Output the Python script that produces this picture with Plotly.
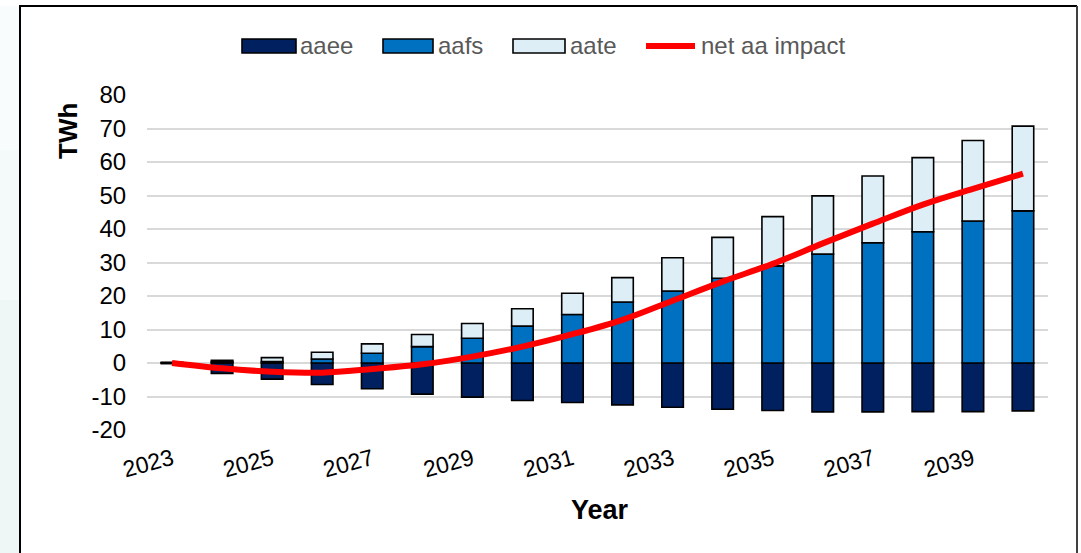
import plotly.graph_objects as go

years = [str(y) for y in range(2023, 2041)]
tick_years = [str(y) for y in range(2023, 2041, 2)]
y_tick_values = [-20, -10, 0, 10, 20, 30, 40, 50, 60, 70, 80]
y_tick_labels = ["-20", "-10", "0", "10", "20", "30", "40", "50", "60", "70", "80"]
aaee = [-0.2, -3.1, -4.8, -6.4, -7.7, -9.3, -10.2, -11.2, -11.8, -12.5, -13.2, -13.8, -14.2, -14.6, -14.6, -14.5, -14.5, -14.3]
aafs = [0.1, 0.4, 0.4, 1.2, 2.9, 4.9, 7.4, 11.0, 14.5, 18.2, 21.5, 25.3, 29.0, 32.5, 35.9, 39.2, 42.4, 45.4]
aate = [0.1, 0.4, 1.2, 2.0, 2.8, 3.6, 4.4, 5.2, 6.3, 7.3, 9.9, 12.2, 14.7, 17.4, 19.9, 22.1, 24.0, 25.3]
net_impact = [0.0, -1.6, -2.6, -2.9, -1.8, -0.4, 1.9, 4.9, 8.6, 12.9, 18.6, 24.3, 29.6, 35.7, 41.6, 47.3, 52.0, 56.5]

series_names = ["aaee", "aafs", "aate", "net aa impact"]
colors = ["#002060", "#0070C0", "#DDEEF7", "#FF0000"]

W, H = 1081, 553
L, R, T, B = 147, 33, 95, 123
PW, PH = W - L - R, H - T - B


def px(x):
    return (x - L) / PW


def py(y):
    return (H - B - y) / PH


fig = go.Figure()
for name, vals, col in zip(series_names[:3], [aaee, aafs, aate], colors[:3]):
    fig.add_trace(go.Bar(x=years, y=vals, name=name, marker=dict(color=col, line=dict(color="black", width=1.6)),
                         showlegend=False))
fig.add_trace(go.Scatter(x=years, y=net_impact, name=series_names[3], mode="lines",
                         line=dict(color=colors[3], width=6, shape="spline", smoothing=1.0), showlegend=False))

shapes = []
annotations = []
# left teal strip (approximate gradient)
bands = [(6, 150, "#F9FCFC"), (150, 300, "#F4F9F9"), (300, 553, "#EEF6F6")]
for y0, y1, c in bands:
    shapes.append(dict(type="rect", xref="paper", yref="paper", x0=px(0), x1=px(19), y0=py(y1), y1=py(y0),
                       fillcolor=c, line=dict(width=0), layer="below"))
# frame
shapes.append(dict(type="line", xref="paper", yref="paper", x0=px(19), x1=px(1077), y0=py(6), y1=py(6),
                   line=dict(color="black", width=2)))
shapes.append(dict(type="line", xref="paper", yref="paper", x0=px(20), x1=px(20), y0=py(6), y1=py(553),
                   line=dict(color="black", width=2)))
shapes.append(dict(type="line", xref="paper", yref="paper", x0=px(1077), x1=px(1077), y0=py(6), y1=py(553),
                   line=dict(color="#404040", width=2)))

# custom legend
legend_items = [(242, 296, 298), (383, 433, 436), (513, 565, 568)]
ly = 46
for (x0, x1, tx), name, col in zip(legend_items, series_names[:3], colors[:3]):
    shapes.append(dict(type="rect", xref="paper", yref="paper", x0=px(x0), x1=px(x1), y0=py(ly + 7), y1=py(ly - 7),
                       fillcolor=col, line=dict(color="black", width=1.6)))
    annotations.append(dict(text=name, xref="paper", yref="paper", x=px(tx), y=py(ly), xanchor="left",
                            yanchor="middle", showarrow=False, font=dict(size=24, color="#595959")))
shapes.append(dict(type="line", xref="paper", yref="paper", x0=px(646), x1=px(695), y0=py(ly), y1=py(ly),
                   line=dict(color=colors[3], width=6)))
annotations.append(dict(text=series_names[3], xref="paper", yref="paper", x=px(699), y=py(ly), xanchor="left",
                        yanchor="middle", showarrow=False, font=dict(size=24, color="#595959")))

# axis titles
annotations.append(dict(text="<b>TWh</b>", xref="paper", yref="paper", x=px(68), y=py(131), textangle=-90,
                        xanchor="center", yanchor="middle", showarrow=False, font=dict(size=26, color="black")))
annotations.append(dict(text="<b>Year</b>", xref="paper", yref="paper", x=px(600), y=py(510), xanchor="center",
                        yanchor="middle", showarrow=False, font=dict(size=27, color="black")))

fig.update_layout(
    width=W, height=H,
    margin=dict(l=L, r=R, t=T, b=B, pad=0),
    paper_bgcolor="white", plot_bgcolor="white",
    barmode="relative", bargap=0.57,
    font=dict(family="Liberation Sans, Arial, sans-serif", color="black"),
    shapes=shapes, annotations=annotations,
    xaxis=dict(type="category", categoryorder="array", categoryarray=years,
               tickmode="array", tickvals=tick_years, ticktext=tick_years, tickangle=-15,
               tickfont=dict(size=23), showgrid=False, showline=False, zeroline=False,
               ticks="outside", ticklen=6, tickcolor="rgba(0,0,0,0)"),
    yaxis=dict(range=[-20, 80], tickmode="array", tickvals=y_tick_values, ticktext=y_tick_labels,
               tickfont=dict(size=24), showgrid=True, gridcolor="#D9D9D9", gridwidth=1.5,
               zeroline=True, zerolinecolor="#D9D9D9", zerolinewidth=1.5, showline=False,
               ticks="outside", ticklen=15, tickcolor="rgba(0,0,0,0)"),
)

fig.write_html("out.html", config={"displayModeBar": False},
               post_script="document.body.style.margin='0';document.body.style.overflow='hidden';")
